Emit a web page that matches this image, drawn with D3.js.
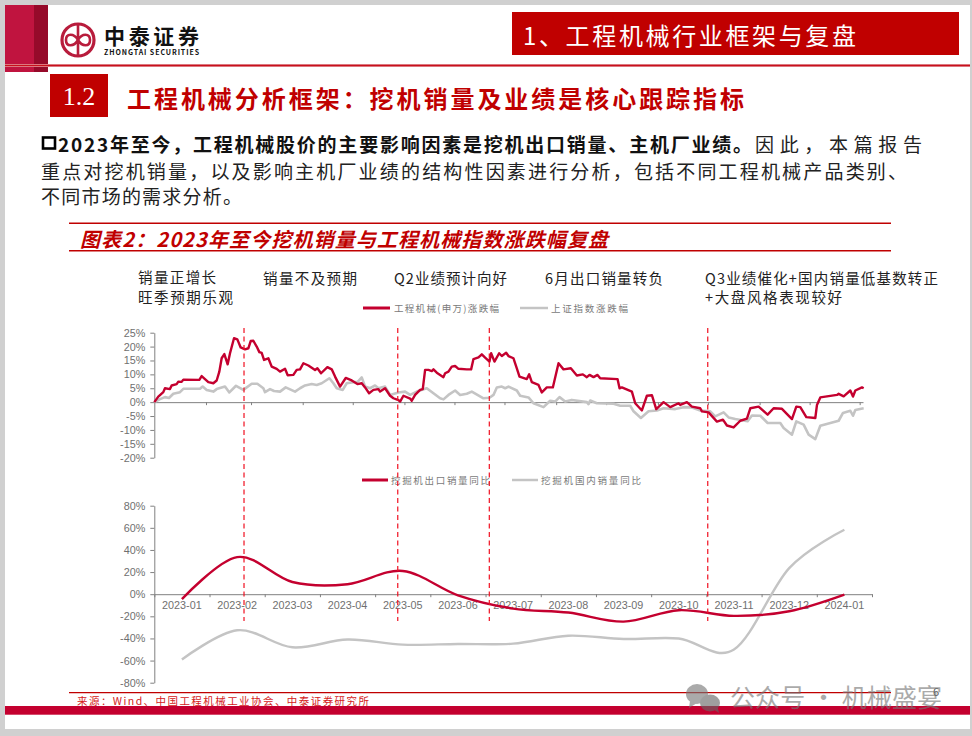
<!DOCTYPE html>
<html>
<head>
<meta charset="utf-8">
<script src="https://cdn.jsdelivr.net/npm/d3@7"></script>
<style>
  html, body { margin: 0; padding: 0; background: #fff; }
  svg { display: block; }
  text { font-family: "Noto Sans CJK SC", sans-serif; }
  .axis text { font-family: "Liberation Sans", Arial, sans-serif; font-size: 10.8px; fill: #6f6f6f; }
</style>
</head>
<body>
<svg width="972" height="736"></svg>
<script>
// top chart, position along the trading axis and cumulative change (%)
const swsDay = [0,2.4,5.4,6.4,9.4,10.4,13.4,14.4,16.4,17.4,27,28.4,30.4,32.4,35.4,37.4,39,40.4,42,44,45.4,47.8,49.8,51.8,54.4,56.4,57.8,59.4,61.4,63,64.4,65.8,68.4,70.4,73.4,75.4,78.4,80,83.4,85.4,87.4,89.4,92.4,96.4,97.8,100,103.8,106.4,108.4,111.4,114.8,118.4,121.8,124.4,126.4,128.8,131.4,134.4,135.4,138.4,141.4,143.4,146.4,147.4,149.4,153.4,154.4,156.4,159.4,161,162.4,164.4,166.4,167.4,169.4,173.4,174.4,176.4,178.4,180.4,182.4,187.4,190,191.4,194.4,196.4,198.4,201,202,204,206.8,208.4,211,212.4,215.4,217.4,219,223.4,224.8,226.4,230.4,232.4,235.4,239,242.4,245.4,249.8,253.4,257,259.4,261,263.4,265.8,267.4,277.8,279,280.4,286.4,288.4,292.4,295.4,298.4,301,305.4,309.4,314.4,315.4,319.4,322.4,327.4,328.4,332.4,337.4,341,343.4,347.4,351.4,355.4,357.4,362.4,367.8,371.4,376.4,382.4,385,387.4,391,396.4,397.4,399.4,409.4,410.4,413.4,417.4,419,420.4,424.4,425.4]
const swsPct = [0,2,3.6,5,4.7,6,6.5,7.4,7.3,8.1,8,9.4,8.3,7.2,6.8,7.8,11,15.8,17.3,13.6,17.6,23,22.6,19.7,19,19.4,22,22.1,20,18,17.7,15.2,15.8,12.8,12,11,12,9.7,9.8,11.6,11.8,14,13.2,11.6,12.2,10.4,12.6,11.8,9.2,5.6,8.7,7.8,6.5,6.8,5.3,3.2,4.4,4.7,3.8,5,2.3,1.4,0.7,0.2,2.3,1.3,0.5,2.6,4.4,4.7,11.6,11.6,11.2,11.8,10.6,9,10.4,11,12.8,13,12,11.8,11.8,15.5,16.1,17.2,16,14.6,17.6,14.6,17.6,16.6,17.8,16.6,15.8,12.2,9.2,8.3,10,7.2,6.2,3.5,5.3,5.3,14,11.8,12.2,9.6,10,9,9.8,9,9.8,8.6,8.3,5,5.3,3.8,-0.4,-3,2.3,2.5,-2.5,0,-1.8,-0.4,-1,0,-1.6,-2.2,-3.3,-3.7,-7,-6.3,-8.4,-9.1,-6.7,-5.9,-2.2,-1.6,-4.5,-2.2,-2.4,-6.1,-1.6,-1.8,-5.4,-5.7,-1,1.7,2.6,3,2.1,4.2,2,4.2,5.3,5]
const shDay = [0,3.4,6.4,8.8,11.4,15.4,17.4,27.4,29,31.4,35.4,37.4,42.4,45,49,53.4,58.4,61.8,65.4,66.4,69.4,71.8,75.4,78.8,84.4,87.4,90.4,94.4,97.4,100.4,105,107.4,109.4,113,115.4,119.4,121.8,124.4,126.4,129.4,132.4,134.4,138.4,141.4,146.4,150.4,153.4,157.4,163.4,167.4,171.4,173.4,176.4,180.4,183.4,187.4,190.4,197.4,201,203.4,205.4,208.4,210.4,212.4,217.4,219.4,224.4,227.4,233.4,237.4,240.4,243,246.4,250.4,259.4,260.4,261.4,265.4,275.4,279.4,285.4,287.4,291.8,296.4,301.4,305.4,312.4,317.4,322.4,327.4,333.4,336.4,341.4,344.4,348.4,355.8,358.4,363.4,367.8,375.4,377.4,382.4,385,389.4,392.4,396.4,399.4,410.4,413,417.4,419,420.4,425.4]
const shPct = [0,1.1,1.8,1.5,3,3.6,4.8,4.8,5.6,4.4,3.8,4.7,5.6,3.5,5.9,4.4,6.6,6.6,5,3.6,4.7,4,3.8,5.3,3.8,5,6,6.5,6.2,6.8,8.6,6.8,5,4.4,6.8,7.2,7.2,8.9,5.6,5,6,5,5.6,2.6,3.5,3.8,2.6,3.8,5,3.2,1.4,1,2.6,4.2,2.6,3,3.8,1.4,1.6,2.6,5.3,5.6,5,5.6,4.2,2.3,1.7,-0.4,-1.8,0.5,0.2,1.8,0.2,0.8,0,-0.7,0.6,-0.4,-0.6,-1.3,-1.3,-3.3,-5.7,-3.3,-3,-2.2,-2.5,-1.8,-1.9,-3,-3.3,-5.1,-3.7,-5.5,-6.1,-6.9,-4.8,-4.9,-7.5,-7.5,-9.3,-11.7,-6.9,-8.1,-11.7,-13.3,-8.5,-6.7,-3.9,-3.1,-4.9,-2.8,-2.2]
const monthTicks = [31,58,89,119,150,180,210,241,271,302,332,363,393,423]
const eventDays = [53.8,146,200.9,331.9]

// bottom chart, monthly excavator sales yoy (%)
const months = ["2023-01","2023-02","2023-03","2023-04","2023-05","2023-06","2023-07","2023-08","2023-09","2023-10","2023-11","2023-12","2024-01"]
const exportYoy = [-4.5,33.5,11,9,21,-1,-13,-16.6,-24.8,-14.5,-19.6,-15.4,-0.3]
const domesticYoy = [-59,-32.6,-48,-41,-45.6,-45,-44.7,-37.5,-40.5,-40,-50,23.6,58.3]

const red = "#c4002f"
const grey = "#c4c4c4"
const titleRed = "#c00000"

const svg = d3.select("svg")

const addText = function (str, x, y, opts) {
    const o = opts || {}
    const t = svg.append("text")
        .attr("x", x)
        .attr("y", y)
        .attr("fill", o.fill || "#222")
        .attr("font-size", o.size || 14)
        .attr("font-weight", o.weight || 400)
        .attr("dominant-baseline", "central")
        .text(str)
    if (o.width) t.attr("textLength", o.width).attr("lengthAdjust", "spacing")
    if (o.italic) t.attr("font-style", "italic")
    if (o.opacity) t.attr("opacity", o.opacity)
    return t
}

const addRect = function (x, y, w, h, fill) {
    return svg.append("rect").attr("x", x).attr("y", y).attr("width", w).attr("height", h).attr("fill", fill)
}

const addLine = function (x1, y1, x2, y2, color, width) {
    return svg.append("line").attr("x1", x1).attr("y1", y1).attr("x2", x2).attr("y2", y2)
        .attr("stroke", color).attr("stroke-width", width)
}

// page frame
addRect(0, 0, 972, 736, "#d0d0d0")
addRect(5, 5, 965, 724, "#fff")

// header
addRect(5, 5, 29, 67, "#c0143f")
addRect(34, 5, 14, 67, "#960a2a")
addLine(5, 65.5, 970, 65.5, "#e39aa0", 3)
addLine(5, 65.5, 970, 65.5, "#c8101c", 1.4)
addRect(512, 12, 447, 43, titleRed)
addText("1、工程机械行业框架与复盘", 523, 34, {fill: "#fff", size: 24, width: 333})

// logo
svg.append("circle").attr("cx", 78).attr("cy", 40).attr("r", 16).attr("fill", "none")
    .attr("stroke", "#b81c3c").attr("stroke-width", 3.2)
svg.append("path")
    .attr("d", "M78 25V55M78 40C74 33 66 33 66 40C66 47 74 47 78 40C82 33 90 33 90 40C90 47 82 47 78 40")
    .attr("fill", "none").attr("stroke", "#b81c3c").attr("stroke-width", 2.6)
addText("中泰证券", 104, 35, {fill: "#111", size: 21, weight: 700, width: 95})
addText("ZHONGTAI SECURITIES", 104, 51.5, {fill: "#111", size: 7, weight: 700, width: 95})

// section title
addRect(50, 74, 58, 43, titleRed)
svg.append("text").attr("x", 79).attr("y", 96).attr("text-anchor", "middle")
    .attr("dominant-baseline", "central").attr("fill", "#fff").attr("font-size", 26)
    .style("font-family", "'Liberation Serif', serif").text("1.2")
addText("工程机械分析框架\uFF1A挖机销量及业绩是核心跟踪指标", 127, 97, {fill: titleRed, size: 24, weight: 700, width: 617})

// intro text
svg.append("rect").attr("x", 43).attr("y", 137.5).attr("width", 12).attr("height", 11)
    .attr("fill", "none").attr("stroke", "#000").attr("stroke-width", 2.6)
addText("2023年至今\uFF0C工程机械股价的主要影响因素是挖机出口销量、主机厂业绩。", 58, 143, {fill: "#111", size: 19, weight: 700, width: 694})
addText("因此\uFF0C本篇报告", 755, 143, {fill: "#222", size: 19, width: 167})
addText("重点对挖机销量\uFF0C以及影响主机厂业绩的结构性因素进行分析\uFF0C包括不同工程机械产品类别、", 41, 170, {fill: "#222", size: 19, width: 866})
addText("不同市场的需求分析。", 41, 195, {fill: "#222", size: 19, width: 201})

// figure title
addLine(69, 223.3, 891, 223.3, titleRed, 1.6)
addLine(69, 250.7, 891, 250.7, titleRed, 1.6)
addText("图表2\uFF1A2023年至今挖机销量与工程机械指数涨跌幅复盘", 80, 238, {fill: titleRed, size: 20, weight: 700, italic: true, width: 528})

// annotations above the chart
addText("销量正增长", 138, 276, {size: 14.5, width: 78})
addText("旺季预期乐观", 138, 296, {size: 14.5, width: 95})
addText("销量不及预期", 263, 277, {size: 14.5, width: 94})
addText("Q2业绩预计向好", 394, 277, {size: 14.5, width: 113})
addText("6月出口销量转负", 545, 277, {size: 14.5, width: 118})
addText("Q3业绩催化+国内销量低基数转正", 705, 277, {size: 14.5, width: 233})
addText("+大盘风格表现较好", 705, 296, {size: 14.5, width: 137})

// legends
addLine(363, 308, 390, 308, red, 3)
addText("工程机械(申万)涨跌幅", 394, 308, {fill: "#7a7a7a", size: 9.5, width: 105})
addLine(520, 308, 548, 308, grey, 2.5)
addText("上证指数涨跌幅", 551, 308, {fill: "#7a7a7a", size: 9.5, width: 77})
addLine(362, 480, 388, 480, red, 3)
addText("挖掘机出口销量同比", 391, 480, {fill: "#7a7a7a", size: 9.5, width: 99})
addLine(512, 480, 538, 480, grey, 2.5)
addText("挖掘机国内销量同比", 541, 480, {fill: "#7a7a7a", size: 9.5, width: 100})

// top chart
const xTop = d3.scaleLinear().domain([0, 425]).range([154.3, 863])
const yTop = d3.scaleLinear().domain([-20, 25]).range([457.7, 332.7])

const lineTop = d3.line()
    .x(d => xTop(d[0]))
    .y(d => yTop(d[1]))

const yAxisTop = svg.append("g").attr("class", "axis")
    .attr("transform", "translate(154.3,0)")
    .call(d3.axisLeft(yTop).tickValues(d3.range(-20, 26, 5)).tickFormat(d => d + "%").tickSize(4).tickSizeOuter(0).tickPadding(5))
const xAxisTop = svg.append("g").attr("class", "axis")
    .attr("transform", "translate(0," + yTop(0) + ")")
    .call(d3.axisBottom(xTop).tickValues(monthTicks).tickFormat("").tickSize(3).tickSizeOuter(0))

svg.append("path").datum(d3.zip(shDay, shPct))
    .attr("d", lineTop).attr("fill", "none").attr("stroke", grey).attr("stroke-width", 2.6).attr("stroke-linejoin", "round")
svg.append("path").datum(d3.zip(swsDay, swsPct))
    .attr("d", lineTop).attr("fill", "none").attr("stroke", red).attr("stroke-width", 2.4).attr("stroke-linejoin", "round")

// bottom chart
const xBand = d3.scaleBand().domain(months).range([154.3, 872])
const xEdge = d3.scaleLinear().domain([0, months.length]).range([154.3, 872])
const yBot = d3.scaleLinear().domain([-80, 80]).range([682.7, 505.7])

const lineBot = d3.line()
    .x((d, i) => xBand(months[i]) + xBand.bandwidth() / 2)
    .y(d => yBot(d))
    .curve(d3.curveCardinal.tension(0))

svg.append("g").attr("class", "axis")
    .attr("transform", "translate(154.3,0)")
    .call(d3.axisLeft(yBot).tickValues(d3.range(-80, 81, 20)).tickFormat(d => d + "%").tickSize(4).tickSizeOuter(0).tickPadding(5))
svg.append("g").attr("class", "axis")
    .attr("transform", "translate(0," + yBot(0) + ")")
    .call(d3.axisBottom(xEdge).tickValues(d3.range(months.length + 1)).tickFormat("").tickSize(3).tickSizeOuter(0))
svg.append("g").attr("class", "axis month-labels")
    .attr("transform", "translate(0," + yBot(0) + ")")
    .call(d3.axisBottom(xBand).tickSize(0).tickPadding(7))
    .call(g => g.select(".domain").remove())

svg.selectAll(".axis path.domain, .axis line").attr("stroke", "#808080")

svg.append("path").datum(domesticYoy)
    .attr("d", lineBot).attr("fill", "none").attr("stroke", grey).attr("stroke-width", 2.4)
svg.append("path").datum(exportYoy)
    .attr("d", lineBot).attr("fill", "none").attr("stroke", red).attr("stroke-width", 2.4)

// dashed event markers
svg.selectAll("line.event")
    .data(eventDays)
    .enter()
    .append("line")
    .attr("class", "event")
    .attr("x1", d => xTop(d))
    .attr("x2", d => xTop(d))
    .attr("y1", 328)
    .attr("y2", 621)
    .attr("stroke", "#f01020")
    .attr("stroke-width", 1.2)
    .attr("stroke-dasharray", "5 3.5")

// footer
addLine(69, 692.6, 891, 692.6, titleRed, 1.2)
addText("来源\uFF1AWind、中国工程机械工业协会、中泰证券研究所", 77, 700, {fill: "#d42020", size: 10.5, width: 292})
addRect(5, 706, 965, 8.7, red)
addText("6", 933, 691, {fill: "#555", size: 11})

// watermark
const mark = svg.append("g").attr("opacity", 0.62)
mark.append("ellipse").attr("cx", 697).attr("cy", 694).attr("rx", 11).attr("ry", 10).attr("fill", "#777")
mark.append("path").attr("d", "M690 701L689 708L697 703Z").attr("fill", "#777")
mark.append("ellipse").attr("cx", 710).attr("cy", 703).attr("rx", 10).attr("ry", 8.5).attr("fill", "#666")
mark.append("path").attr("d", "M713 709L719 713L717 704Z").attr("fill", "#666")
addText("公众号 · 机械盛宴", 730, 696, {fill: "#777", size: 25, width: 212, opacity: 0.62})
</script>
</body>
</html>
